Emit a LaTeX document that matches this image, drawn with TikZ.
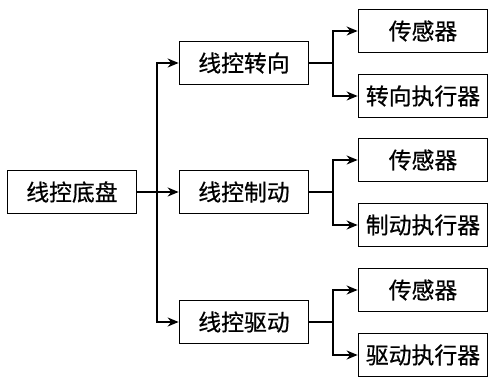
\documentclass[tikz,border=0pt]{standalone}
\usepackage{fontspec}
\newfontfamily\cjk[FakeBold=0.6]{Noto Sans CJK SC}
\usetikzlibrary{calc,arrows.meta}

\begin{document}
\begin{tikzpicture}[x=0.02cm,y=-0.02cm,>={Stealth[length=2.2mm,width=1.8mm]},line width=1pt,
  box/.style={draw,rectangle,minimum width=2.58cm,minimum height=0.86cm,inner sep=0pt,
    font=\cjk\fontsize{13}{15}\selectfont}]
  \useasboundingbox (0,0) rectangle (496,381);
  \node[box] (chassis) at (72,192) {线控底盘};
  \foreach \grp/\y/\act in {steer/63/转向,brake/192/制动,drive/322/驱动}{
    \node[box] (\grp) at (244,\y) {线控\act};
    \node[box] (\grp-s) at (423,\y-32) {传感器};
    \node[box] (\grp-a) at (423,\y+33) {\act 执行器};
    \coordinate (\grp-j) at (333,\y);
    \draw (\grp) -- (\grp-j);
    \draw[->] (\grp-j) |- (\grp-s);
    \draw[->] (\grp-j) |- (\grp-a);
  }
  % trunk
  \coordinate (trunk) at (157,192);
  \draw[->] (chassis) -- (brake);
  \draw[->] (trunk) |- (steer);
  \draw[->] (trunk) |- (drive);
\end{tikzpicture}
\end{document}
